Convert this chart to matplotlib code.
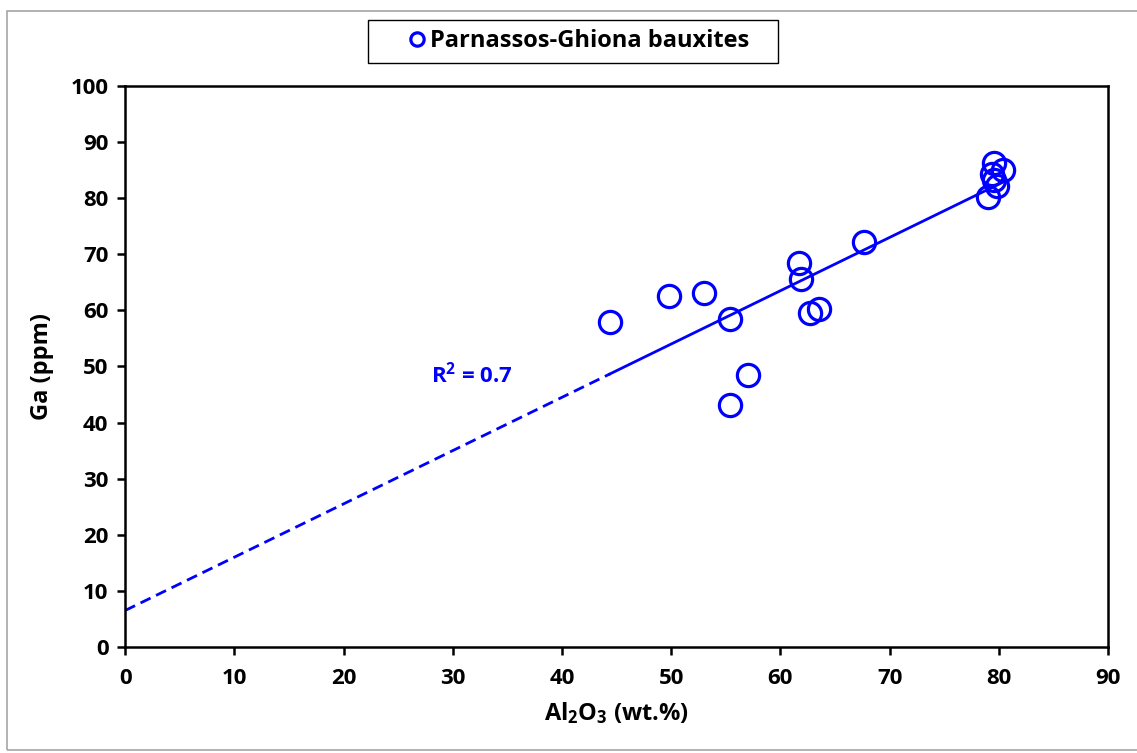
import matplotlib
matplotlib.use('Agg')
import matplotlib.pyplot as plt
from matplotlib.patches import Rectangle
import numpy as np

# Al2O3 (wt.%) vs Ga (ppm), Parnassos-Ghiona bauxites
al2o3 = [44.4, 49.8, 53.0, 55.4, 55.4, 57.0, 61.7, 61.9, 62.7, 63.5, 67.7,
         79.6, 80.4, 79.4, 79.6, 79.8, 79.0]
ga = [57.9, 62.6, 63.1, 58.5, 43.1, 48.5, 68.4, 65.6, 59.5, 60.2, 72.2,
      86.3, 85.0, 84.3, 83.3, 82.2, 80.2]

# linear trendline
trend_slope = 0.950
trend_intercept = 6.5
r2_label = 'R$^\\mathbf{2}$ = 0.7'

blue = '#0000FF'
font = 'Open Sans'

plt.rcParams['font.family'] = [font, 'DejaVu Sans']
plt.rcParams['font.weight'] = 'bold'
plt.rcParams['mathtext.fontset'] = 'custom'
plt.rcParams['mathtext.bf'] = font + ':bold'
plt.rcParams['mathtext.rm'] = font + ':bold'
plt.rcParams['mathtext.default'] = 'bf'

fig = plt.figure(figsize=(11.37, 7.53), dpi=100)
ax = fig.add_axes([0.110, 0.1408, 0.8645, 0.745])

# figure frame
fig.patches.append(Rectangle((7 / 1137, 3 / 753), 1.0, 739 / 753, transform=fig.transFigure,
                             fill=False, edgecolor='#A6A6A6', linewidth=1.2))
# legend frame
fig.patches.append(Rectangle((368 / 1137, 1 - 63 / 753), 410 / 1137, 43 / 753,
                             transform=fig.transFigure, fill=False, edgecolor='black',
                             linewidth=1.0))

x_min, x_max = min(al2o3), max(al2o3)
xs_back = np.array([0, x_min])
xs_fit = np.array([x_min, x_max])
ax.plot(xs_back, trend_slope * xs_back + trend_intercept, color=blue, lw=2.0,
        dashes=(4, 2.2), zorder=2)
ax.plot(xs_fit, trend_slope * xs_fit + trend_intercept, color=blue, lw=2.0, zorder=2)

ax.plot(al2o3, ga, linestyle='none', marker='o', markersize=16, markerfacecolor='none',
        markeredgecolor=blue, markeredgewidth=2.3, label='Parnassos-Ghiona bauxites', zorder=3)

ax.text(28.0, 48.5, r2_label, color=blue, fontsize=16, fontweight='bold', ha='left', va='center')

ax.set_xlim(0, 90)
ax.set_ylim(0, 100)
ax.set_xticks(np.arange(0, 91, 10))
ax.set_yticks(np.arange(0, 101, 10))
ax.tick_params(direction='out', length=6, width=1.8, labelsize=16)
ax.tick_params(axis='x', pad=9)
ax.tick_params(axis='y', pad=6)
for lab in ax.get_xticklabels() + ax.get_yticklabels():
    lab.set_fontweight('bold')
for s in ax.spines.values():
    s.set_linewidth(1.8)

ax.set_xlabel('Al$_\\mathbf{2}$O$_\\mathbf{3}$ (wt.%)', fontsize=17, fontweight='bold', labelpad=8)
ax.set_ylabel('Ga (ppm)', fontsize=17, fontweight='bold', labelpad=12)

leg = fig.legend(loc='center', bbox_to_anchor=(0.508, 0.945), fontsize=17, markerscale=0.6,
                 frameon=False, handletextpad=0.05, borderpad=0.4,
                 handlelength=1.0, borderaxespad=0)
for t in leg.get_texts():
    t.set_fontweight('bold')

plt.savefig('out.png', dpi=100)
